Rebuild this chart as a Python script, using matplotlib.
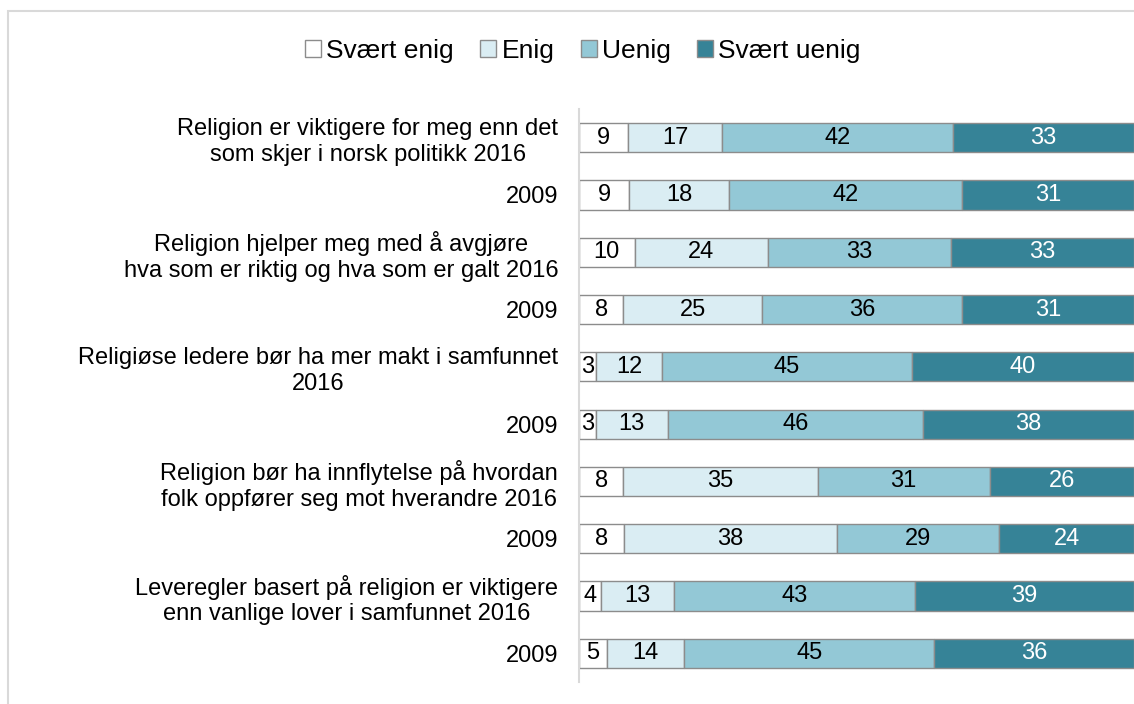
import matplotlib
matplotlib.use("Agg")
import matplotlib.pyplot as plt
from matplotlib.patches import Rectangle
import numpy as np

plt.rcParams['font.family'] = ['Liberation Sans', 'DejaVu Sans']

# statements / years, top to bottom
labels = [
    "Religion er viktigere for meg enn det\nsom skjer i norsk politikk 2016",
    "2009",
    "Religion hjelper meg med å avgjøre\nhva som er riktig og hva som er galt 2016",
    "2009",
    "Religiøse ledere bør ha mer makt i samfunnet\n2016",
    "2009",
    "Religion bør ha innflytelse på hvordan\nfolk oppfører seg mot hverandre 2016",
    "2009",
    "Leveregler basert på religion er viktigere\nenn vanlige lover i samfunnet 2016",
    "2009",
]

categories = ["Svært enig", "Enig", "Uenig", "Svært uenig"]

svaert_enig = [9, 9, 10, 8, 3, 3, 8, 8, 4, 5]
enig = [17, 18, 24, 25, 12, 13, 35, 38, 13, 14]
uenig = [42, 42, 33, 36, 45, 46, 31, 29, 43, 45]
svaert_uenig = [33, 31, 33, 31, 40, 38, 26, 24, 39, 36]

colors = ["#ffffff", "#daedf3", "#93c8d6", "#368397"]
text_colors = ["black", "black", "black", "white"]

series = np.array([svaert_enig, enig, uenig, svaert_uenig], dtype=float)
totals = series.sum(axis=0)
shares = series / totals * 100  # 100% stacked

fig = plt.figure(figsize=(11.34, 7.04), dpi=100)
ax = fig.add_axes([579 / 1134, 1 - 682 / 704, 1 - 579 / 1134, 573 / 704])

y = np.arange(len(labels))
left = np.zeros(len(labels))
for i, cat in enumerate(categories):
    ax.barh(y, shares[i], left=left, height=0.51, color=colors[i],
            edgecolor="#8c8c8c", linewidth=1.0, label=cat)
    for j in range(len(labels)):
        ax.text(left[j] + shares[i][j] / 2, y[j], str(int(series[i][j])),
                ha="center", va="center", fontsize=17, color=text_colors[i])
    left += shares[i]

ax.set_xlim(0, 100)
ax.set_ylim(9.5, -0.5)
ax.set_yticks(y)
ax.set_yticklabels(labels, fontsize=17, multialignment="center")
ax.tick_params(axis="y", length=0, pad=15)
ax.set_xticks([])
for side in ["top", "right", "bottom"]:
    ax.spines[side].set_visible(False)
ax.spines["left"].set_color("#d9d9d9")
ax.spines["left"].set_linewidth(1.5)

fig.legend(loc="center", bbox_to_anchor=(583 / 1134, 1 - 51 / 704), ncol=4,
           frameon=False, fontsize=19, handlelength=0.6, handleheight=0.6,
           handletextpad=0.2, columnspacing=1.0)

# light grey chart-area border (left and top)
fig.patches.append(Rectangle((8 / 1134, -0.1), 2, 1.1 - 11 / 704,
                             transform=fig.transFigure, fill=False,
                             edgecolor="#d9d9d9", linewidth=1.5))

fig.savefig("out.png", dpi=100)
